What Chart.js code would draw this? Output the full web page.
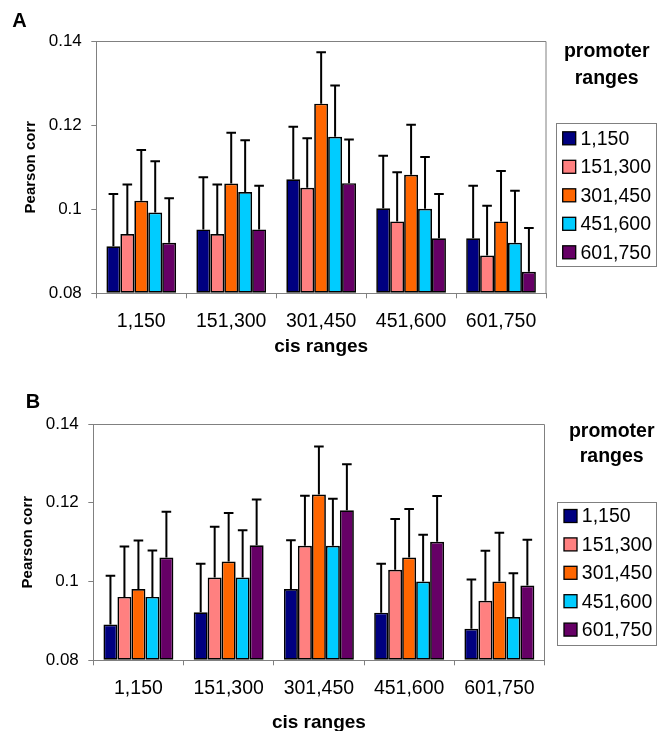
<!DOCTYPE html>
<html><head><meta charset="utf-8">
<script src="https://cdn.jsdelivr.net/npm/chart.js@4.4.1/dist/chart.umd.min.js"></script>
<style>
html,body{margin:0;padding:0;background:#fff;overflow:hidden;width:657px;height:731px}
.p{position:absolute;left:0}
canvas{display:block}
</style></head><body>
<div class="p" style="top:0"><canvas id="cA" width="657" height="365"></canvas></div>
<div class="p" style="top:365px"><canvas id="cB" width="657" height="380"></canvas></div>
<script>
// ---------- data ----------
const categories = ['1,150', '151,300', '301,450', '451,600', '601,750'];   // cis ranges
const seriesNames = ['1,150', '151,300', '301,450', '451,600', '601,750'];  // promoter ranges
const yTickValues = [0.08, 0.10, 0.12, 0.14];
const yTickLabels = ['0.08', '0.1', '0.12', '0.14'];
const xAxisTitle = 'cis ranges';
const yAxisTitle = 'Pearson corr';
const legendTitle = ['promoter', 'ranges'];
const panelLabels = ['A', 'B'];

// Panel A: bar heights (mean) and error-bar upper ends, one array per promoter range
const aMean1 = [0.0912, 0.0952, 0.1071, 0.1002, 0.0931];
const aMean2 = [0.0941, 0.0941, 0.1051, 0.0971, 0.0890];
const aMean3 = [0.1020, 0.1061, 0.1251, 0.1082, 0.0971];
const aMean4 = [0.0992, 0.1041, 0.1172, 0.1001, 0.0920];
const aMean5 = [0.0920, 0.0952, 0.1062, 0.0931, 0.0851];
const aUpper1 = [0.1036, 0.1076, 0.1196, 0.1127, 0.1056];
const aUpper2 = [0.1059, 0.1059, 0.1169, 0.1088, 0.1008];
const aUpper3 = [0.1141, 0.1182, 0.1373, 0.1201, 0.1091];
const aUpper4 = [0.1114, 0.1164, 0.1294, 0.1124, 0.1044];
const aUpper5 = [0.1026, 0.1056, 0.1166, 0.1036, 0.0955];

// Panel B
const bMean1 = [0.0891, 0.0922, 0.0981, 0.0921, 0.0880];
const bMean2 = [0.0961, 0.1010, 0.1091, 0.1030, 0.0951];
const bMean3 = [0.0981, 0.1051, 0.1221, 0.1061, 0.1000];
const bMean4 = [0.0961, 0.1010, 0.1091, 0.1000, 0.0910];
const bMean5 = [0.1061, 0.1092, 0.1181, 0.1101, 0.0990];
const bUpper1 = [0.1015, 0.1045, 0.1105, 0.1045, 0.1005];
const bUpper2 = [0.1089, 0.1139, 0.1218, 0.1159, 0.1078];
const bUpper3 = [0.1104, 0.1174, 0.1343, 0.1184, 0.1124];
const bUpper4 = [0.1079, 0.1130, 0.1210, 0.1119, 0.1021];
const bUpper5 = [0.1177, 0.1208, 0.1298, 0.1217, 0.1106];

// ---------- styling ----------
const FAM = '"Liberation Sans", Arial, Helvetica, sans-serif';
const colors = ['#000080', '#FF8080', '#FF6600', '#00CCFF', '#660066'];
const AXIS = '#808080';

const decorPlugin = {
  id: 'decor',
  afterDatasetsDraw(chart) {
    const ctx = chart.ctx, y = chart.scales.y, ca = chart.chartArea;
    // error bars (upper only)
    ctx.save();
    ctx.strokeStyle = '#000';
    ctx.lineWidth = 2;
    chart.data.datasets.forEach((ds, i) => {
      const meta = chart.getDatasetMeta(i);
      meta.data.forEach((bar, j) => {
        const top = y.getPixelForValue(ds.upper[j]);
        const cap = 4.8;
        ctx.beginPath();
        ctx.moveTo(bar.x, bar.y);
        ctx.lineTo(bar.x, top);
        ctx.moveTo(bar.x - cap, top);
        ctx.lineTo(bar.x + cap, top);
        ctx.stroke();
      });
    });
    // plot frame top and right
    ctx.strokeStyle = AXIS;
    ctx.lineWidth = 1;
    ctx.beginPath();
    ctx.moveTo(ca.left, Math.round(ca.top) + 0.5);
    ctx.lineTo(ca.right, Math.round(ca.top) + 0.5);
    ctx.lineTo(ca.right, ca.bottom);
    ctx.stroke();
    ctx.restore();
  },
  afterDraw(chart) {
    const o = chart.options.plugins.decor;
    const ctx = chart.ctx;
    ctx.save();
    // panel letter
    ctx.fillStyle = '#000';
    ctx.font = 'bold 20px ' + FAM;
    ctx.textAlign = 'center';
    ctx.textBaseline = 'middle';
    ctx.fillText(o.letter, o.letterX, o.letterY);
    // legend title
    ctx.font = 'bold 19.5px ' + FAM;
    ctx.fillText(legendTitle[0], o.titleX, o.titleY1);
    ctx.fillText(legendTitle[1], o.titleX, o.titleY2);
    // legend box
    ctx.strokeStyle = AXIS;
    ctx.lineWidth = 1;
    ctx.strokeRect(Math.round(o.boxL) + 0.5, Math.round(o.boxT) + 0.5, 656 - Math.round(o.boxL), Math.round(o.boxB - o.boxT));
    ctx.font = '19.5px ' + FAM;
    ctx.textAlign = 'left';
    chart.data.datasets.forEach((ds, i) => {
      const cy = o.rowY0 + i * o.rowStep;
      const sx = o.boxL + 6.7, sz = 13;
      ctx.fillStyle = ds.backgroundColor;
      ctx.fillRect(sx, cy - sz / 2, sz, sz);
      ctx.strokeStyle = '#000';
      ctx.lineWidth = 1.3;
      ctx.strokeRect(sx, cy - sz / 2, sz, sz);
      ctx.fillStyle = '#000';
      ctx.fillText(ds.label, o.boxL + 24.5, cy + 1);
    });
    ctx.restore();
  }
};

function makeChart(id, means, uppers, lay) {
  const datasets = means.map((m, i) => ({
    label: seriesNames[i],
    data: m,
    upper: uppers[i],
    backgroundColor: colors[i],
    borderColor: '#000',
    borderWidth: 1.7,
    borderSkipped: false,
    base: yTickValues[0],
    categoryPercentage: 0.775,
    barPercentage: 1.0
  }));
  return new Chart(document.getElementById(id), {
    type: 'bar',
    data: { labels: categories, datasets },
    plugins: [decorPlugin],
    options: {
      responsive: false,
      animation: false,
      devicePixelRatio: 1,
      layout: { padding: { left: lay.padL, right: lay.padR, top: lay.padT, bottom: lay.padB } },
      plugins: {
        legend: { display: false },
        tooltip: { enabled: false },
        decor: lay.decor
      },
      scales: {
        x: {
          type: 'category',
          offset: true,
          grid: { display: true, drawOnChartArea: false, drawTicks: true, tickLength: 5, color: AXIS, offset: true },
          border: { display: true, color: AXIS, width: 1 },
          ticks: { font: { size: 19.5, family: FAM }, color: '#000', padding: 11.7, maxRotation: 0, autoSkip: false },
          title: { display: true, text: xAxisTitle, font: { size: 19, weight: 'bold', family: FAM }, color: '#000', padding: 0 },
          afterFit: s => { s.height = lay.xH; }
        },
        y: {
          min: yTickValues[0],
          max: yTickValues[yTickValues.length - 1],
          grid: { display: true, drawOnChartArea: false, drawTicks: true, tickLength: 5, color: AXIS },
          border: { display: true, color: AXIS, width: 1 },
          afterBuildTicks: s => { s.ticks = yTickValues.map(v => ({ value: v })); },
          ticks: { font: { size: 17, family: FAM }, color: '#000', padding: 9.5, callback: (v, i) => yTickLabels[i] },
          title: { display: true, text: yAxisTitle, font: { size: 15, weight: 'bold', family: FAM }, color: '#000', padding: 0 },
          afterFit: s => { s.width = lay.yW; }
        }
      }
    }
  });
}

makeChart('cA', [aMean1, aMean2, aMean3, aMean4, aMean5], [aUpper1, aUpper2, aUpper3, aUpper4, aUpper5], {
  padL: 22, yW: 74.3, padR: 111, padT: 41, xH: 65, padB: 6.7,
  decor: { letter: panelLabels[0], letterX: 19.4, letterY: 21,
    titleX: 606.7, titleY1: 52, titleY2: 78.5,
    boxL: 556, boxT: 123.3, boxB: 266.7, rowY0: 138.3, rowStep: 28.5 }
});
makeChart('cB', [bMean1, bMean2, bMean3, bMean4, bMean5], [bUpper1, bUpper2, bUpper3, bUpper4, bUpper5], {
  padL: 18.5, yW: 74.8, padR: 112.5, padT: 59, xH: 74.1, padB: 10.6,
  decor: { letter: panelLabels[1], letterX: 33, letterY: 37,
    titleX: 611.7, titleY1: 67, titleY2: 92,
    boxL: 557.3, boxT: 136.7, boxB: 280, rowY0: 151, rowStep: 28.4 }
});
</script>
</body></html>
